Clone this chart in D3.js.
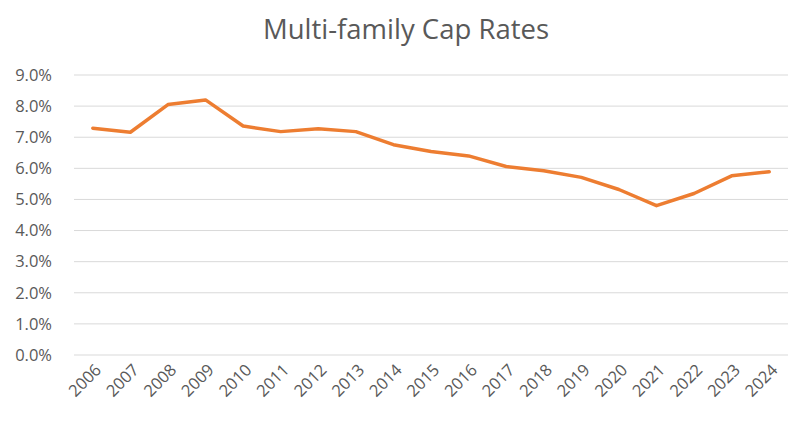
<!DOCTYPE html>
<html>
<head>
<meta charset="utf-8">
<script src="https://cdn.jsdelivr.net/npm/d3@7"></script>
<style>
  body { margin: 0; background: #fff; }
  text { font-family: "Open Sans", sans-serif; fill: #595959; }
</style>
</head>
<body>
<div id="chart"></div>
<script>
// data
var years = ["2006", "2007", "2008", "2009", "2010", "2011", "2012", "2013", "2014", "2015",
             "2016", "2017", "2018", "2019", "2020", "2021", "2022", "2023", "2024"];
var capRates = [7.29, 7.16, 8.05, 8.20, 7.36, 7.18, 7.27, 7.18, 6.76, 6.54,
                6.40, 6.06, 5.92, 5.71, 5.32, 4.80, 5.19, 5.76, 5.89];
var yTicks = [0, 1, 2, 3, 4, 5, 6, 7, 8, 9];
var title = "Multi-family Cap Rates";

var W = 800, H = 421;
var margin = { top: 75, right: 12, bottom: 66, left: 74 },
    width = W - margin.left - margin.right,
    height = H - margin.top - margin.bottom;

var svg = d3.select("#chart")
    .append("svg")
    .attr("width", W)
    .attr("height", H);

// title
svg.append("text")
    .attr("x", W / 2 + 6)
    .attr("y", 39)
    .attr("text-anchor", "middle")
    .style("font-size", "27.5px")
    .text(title);

var g = svg.append("g")
    .attr("transform", "translate(" + margin.left + "," + margin.top + ")");

var x = d3.scalePoint()
    .domain(years)
    .range([0, width])
    .padding(0.5);

var y = d3.scaleLinear()
    .domain([0, 9])
    .range([height, 0]);

// gridlines
g.selectAll("line.grid")
    .data(yTicks)
    .enter()
    .append("line")
    .attr("class", "grid")
    .attr("x1", 0)
    .attr("x2", width)
    .attr("y1", function (d) { return y(d); })
    .attr("y2", function (d) { return y(d); })
    .style("stroke", "#d9d9d9")
    .style("stroke-width", 1);

// y axis labels
var yAxis = g.append("g")
    .call(d3.axisLeft(y).tickValues(yTicks).tickSize(0).tickPadding(22)
        .tickFormat(function (d) { return d.toFixed(1) + "%"; }));
yAxis.select(".domain").remove();
yAxis.selectAll("text")
    .style("font-size", "16.5px")
    .style("fill", "#595959");

// x axis labels
var xAxis = g.append("g")
    .attr("transform", "translate(0," + height + ")")
    .call(d3.axisBottom(x).tickSize(0));
xAxis.select(".domain").remove();
xAxis.selectAll("text")
    .attr("text-anchor", "end")
    .attr("dy", null)
    .attr("y", 0)
    .attr("transform", "translate(9,16) rotate(-45)")
    .style("font-size", "16.5px")
    .style("fill", "#595959");

// the line
var line = d3.line()
    .x(function (d, i) { return x(years[i]); })
    .y(function (d) { return y(d); });

g.append("path")
    .datum(capRates)
    .attr("d", line)
    .style("fill", "none")
    .style("stroke", "#ED7D31")
    .style("stroke-width", 3.5)
    .style("stroke-linejoin", "round")
    .style("stroke-linecap", "round");
</script>
</body>
</html>
